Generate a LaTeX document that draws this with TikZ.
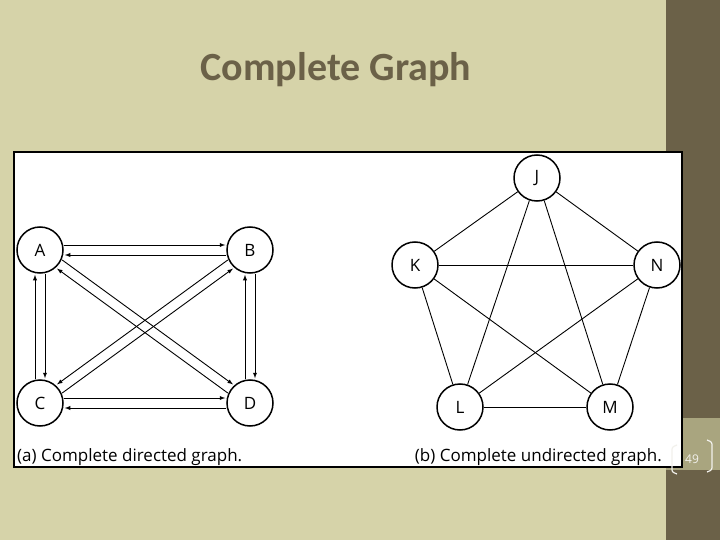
\documentclass[tikz,border=0pt]{standalone}
\usepackage{fontspec}
\setmainfont{Open Sans}
\newfontfamily\titlefont{Carlito}
\begin{document}
\begin{tikzpicture}[x=1pt,y=-1pt,
  vtx/.style={circle,draw,line width=1.5pt,minimum size=46pt,inner sep=0pt,font=\fontsize{17}{17}\selectfont,fill=white},
  arr/.style={-latex,line width=0.9pt,shorten >=1pt},
  edge/.style={line width=0.9pt}]
\definecolor{bg}{HTML}{D6D3A9}
\definecolor{dk}{HTML}{6B6148}
\definecolor{band}{HTML}{A9A57F}
\useasboundingbox (0,0) rectangle (720,540);
\fill[bg] (0,0) rectangle (720,540);
\fill[dk] (666,0) rectangle (720,540);
\fill[band] (666,418) rectangle (720,470);
\node[font=\titlefont\bfseries\fontsize{40}{40}\selectfont,text=dk] (title) at (336,70) {Complete Graph};
\draw[fill=white,line width=2.5pt] (14,152) rectangle (682,467);
% left graph
\node[vtx] (A) at (40,250) {A};
\node[vtx] (B) at (250,250) {B};
\node[vtx] (C) at (40,403) {C};
\node[vtx] (D) at (250,403) {D};
\draw[arr,transform canvas={yshift=5pt}] (A) -- (B);
\draw[arr,transform canvas={yshift=-5pt}] (B) -- (A);
\draw[arr,transform canvas={yshift=5pt}] (C) -- (D);
\draw[arr,transform canvas={yshift=-5pt}] (D) -- (C);
\draw[arr,transform canvas={xshift=5pt}] (A) -- (C);
\draw[arr,transform canvas={xshift=-5pt}] (C) -- (A);
\draw[arr,transform canvas={xshift=5pt}] (B) -- (D);
\draw[arr,transform canvas={xshift=-5pt}] (D) -- (B);
\draw[arr,transform canvas={shift={(3pt,4pt)}}] (A) -- (D);
\draw[arr,transform canvas={shift={(-3pt,-4pt)}}] (D) -- (A);
\draw[arr,transform canvas={shift={(-3pt,4pt)}}] (B) -- (C);
\draw[arr,transform canvas={shift={(3pt,-4pt)}}] (C) -- (B);
\node[anchor=base west,font=\fontsize{17}{17}\selectfont,inner sep=0pt] (capa) at (17,461) {(a) Complete directed graph.};
% right graph
\node[vtx] (J) at (537,178) {J};
\node[vtx] (K) at (415,265) {K};
\node[vtx] (N) at (657,265) {N};
\node[vtx] (L) at (460,407) {L};
\node[vtx] (M) at (610,407) {M};
\foreach \a/\b in {J/K,J/N,J/L,J/M,K/N,K/L,K/M,N/L,N/M,L/M} \draw[edge] (\a) -- (\b);
\node[anchor=base east,font=\fontsize{17}{17}\selectfont,inner sep=0pt] (capb) at (662,461) {(b) Complete undirected graph.};
% page number
\node[text=white!85!band,font=\fontsize{12}{12}\selectfont] (pg) at (692,459) {49};
\draw[white!85!band,line width=1.2pt] (677,445) .. controls (672,447) .. (672,452) -- (672,468) .. controls (672,472) .. (677,474);
\draw[white!85!band,line width=1.2pt] (707,440) .. controls (712,442) .. (712,447) -- (712,465) .. controls (712,470) .. (707,472);
\end{tikzpicture}
\end{document}
